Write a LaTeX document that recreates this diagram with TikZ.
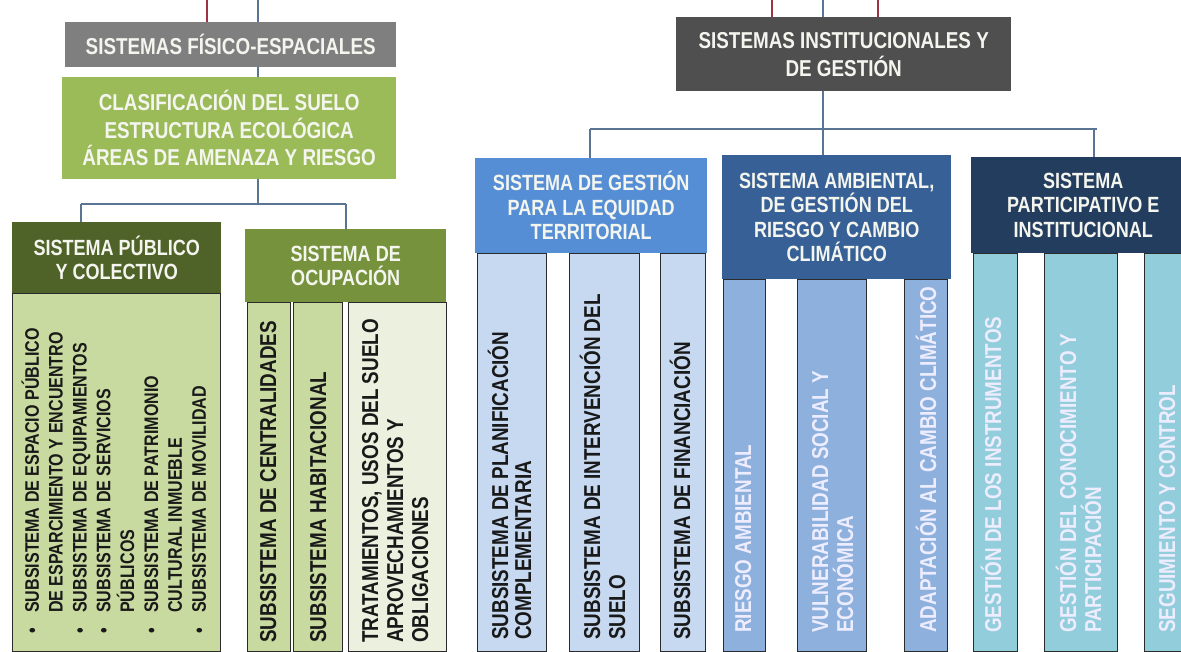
\documentclass[tikz,border=0pt]{standalone}
\usepackage{fontspec}
\setmainfont{Liberation Sans}[FakeStretch=0.82]
\definecolor{fisgray}{HTML}{7F7F7F}
\definecolor{instgray}{HTML}{4F4F4F}
\definecolor{greenA}{HTML}{9BBB59}
\definecolor{pubdark}{HTML}{4F6228}
\definecolor{ocugreen}{HTML}{76923C}
\definecolor{panelc}{HTML}{C8DA9F}
\definecolor{palec}{HTML}{EBF1DE}
\definecolor{gesthdr}{HTML}{558ED5}
\definecolor{gestcol}{HTML}{C6D9F1}
\definecolor{ambhdr}{HTML}{376196}
\definecolor{ambcol}{HTML}{8EB0DC}
\definecolor{parthdr}{HTML}{233D5E}
\definecolor{partcol}{HTML}{92CDDC}
\definecolor{connc}{HTML}{5A7594}
\definecolor{redc}{HTML}{9E3344}
\definecolor{colline}{HTML}{2B2B2B}
\definecolor{lighttext}{HTML}{F4F5EE}
\begin{document}
\begin{tikzpicture}[x=1pt,y=-1pt,
  hdr/.style={inner sep=0pt, align=center, text=lighttext, anchor=north west,
    font=\bfseries\fontsize{22}{24.5}\selectfont},
  colbox/.style={draw=colline, line width=0.9pt},
  vt/.style={rotate=90, anchor=base west, inner sep=0pt, text=black!90,
    font=\bfseries\fontsize{23}{25}\selectfont},
  vtw/.style={vt, text=white!93!blue},
  vtp/.style={vt, font=\bfseries\fontsize{19.6}{22}\selectfont},
  conn/.style={draw=connc, line width=1.2pt},
  redl/.style={draw=redc, line width=1.2pt}]
\useasboundingbox (0,0) rectangle (1181,652);
\fill[white] (0,0) rectangle (1181,652);

% ---------- left tree ----------
\node[hdr, fill=fisgray, minimum width=331pt, minimum height=45pt,
  font=\bfseries\fontsize{23}{27}\selectfont] (fis) at (65,22) {SISTEMAS FÍSICO-ESPACIALES};
\node[hdr, fill=greenA, minimum width=334pt, minimum height=102pt,
  font=\bfseries\fontsize{23}{27.5}\selectfont] (clas) at (62,77)
  {CLASIFICACIÓN DEL SUELO\\ESTRUCTURA ECOLÓGICA\\ÁREAS DE AMENAZA Y RIESGO};
\node[hdr, fill=pubdark, minimum width=209pt, minimum height=71pt] (pub) at (12,222)
  {SISTEMA PÚBLICO\\Y COLECTIVO};
\node[hdr, fill=ocugreen, minimum width=201pt, minimum height=73pt] (ocu) at (245,229)
  {SISTEMA DE\\OCUPACIÓN};

\coordinate (tl1) at (207,0);
\coordinate (tl2) at (258,0);
\coordinate (lj) at (258,204);
\coordinate (lh1) at (81,204);
\coordinate (lh2) at (346,204);
\draw[redl] (tl1) -- (tl1 |- fis.north);
\draw[conn] (tl2) -- (tl2 |- fis.north);
\draw[conn] (tl2 |- fis.south) -- (tl2 |- clas.north);
\draw[conn] (lj |- clas.south) -- (lj);
\draw[conn] (lh1) -- (lh2);
\draw[conn] (lh1) -- (lh1 |- pub.north);
\draw[conn] (lh2) -- (lh2 |- ocu.north);

% panel
\draw[colbox, fill=panelc] (12,293) rectangle (220,651);
\node[vtp] (p1) at (38.8,634) {\makebox[21pt][l]{•}SUBSISTEMA DE ESPACIO PÚBLICO};
\node[vtp] (p2) at (62.7,634) {\hspace*{21pt}DE ESPARCIMIENTO Y ENCUENTRO};
\node[vtp] (p3) at (86.5,634) {\makebox[21pt][l]{•}SUBSISTEMA DE EQUIPAMIENTOS};
\node[vtp] (p4) at (110.4,634) {\makebox[21pt][l]{•}SUBSISTEMA DE SERVICIOS};
\node[vtp] (p5) at (134.2,634) {\hspace*{21pt}PÚBLICOS};
\node[vtp] (p6) at (158.1,634) {\makebox[21pt][l]{•}SUBSISTEMA DE PATRIMONIO};
\node[vtp] (p7) at (181.9,634) {\hspace*{21pt}CULTURAL INMUEBLE};
\node[vtp] (p8) at (205.8,634) {\makebox[21pt][l]{•}SUBSISTEMA DE MOVILIDAD};

% ocupacion columns
\draw[colbox, fill=panelc] (247,302) rectangle (290,651);
\draw[colbox, fill=panelc] (293,302) rectangle (342,651);
\draw[colbox, fill=palec] (348,302) rectangle (446,651);
\node[vt] (o1) at (276,643) {SUBSISTEMA DE CENTRALIDADES};
\node[vt] (o2) at (326,643) {SUBSISTEMA HABITACIONAL};
\node[vt] (o3a) at (378,643) {TRATAMIENTOS, USOS DEL SUELO};
\node[vt] (o3b) at (403,643) {APROVECHAMIENTOS Y};
\node[vt] (o3c) at (428,643) {OBLIGACIONES};

% ---------- right tree ----------
\node[hdr, fill=instgray, minimum width=335pt, minimum height=74pt,
  font=\bfseries\fontsize{23}{28}\selectfont] (inst) at (676,17)
  {SISTEMAS INSTITUCIONALES Y\\DE GESTIÓN};
\node[hdr, fill=gesthdr, minimum width=232pt, minimum height=95pt] (gest) at (475,158)
  {SISTEMA DE GESTIÓN\\PARA LA EQUIDAD\\TERRITORIAL};
\node[hdr, fill=ambhdr, minimum width=229pt, minimum height=124pt] (amb) at (722,155)
  {SISTEMA AMBIENTAL,\\DE GESTIÓN DEL\\RIESGO Y CAMBIO\\CLIMÁTICO};
\node[hdr, fill=parthdr, minimum width=224pt, minimum height=96pt] (part) at (971,157)
  {SISTEMA\\PARTICIPATIVO E\\INSTITUCIONAL};

\coordinate (tr1) at (772,0);
\coordinate (tr2) at (823,0);
\coordinate (tr3) at (878,0);
\coordinate (rj) at (823,129);
\coordinate (rh1) at (590,129);
\coordinate (rh2) at (1097,129);
\coordinate (rh3) at (1094,129);
\draw[redl] (tr1) -- (tr1 |- inst.north);
\draw[conn] (tr2) -- (tr2 |- inst.north);
\draw[redl] (tr3) -- (tr3 |- inst.north);
\draw[conn] (rj |- inst.south) -- (rj |- amb.north);
\draw[conn] (rh1) -- (rh2);
\draw[conn] (rh1) -- (rh1 |- gest.north);
\draw[conn] (rh3) -- (rh3 |- part.north);

% gestion columns
\draw[colbox, fill=gestcol] (477,253) rectangle (546,651);
\draw[colbox, fill=gestcol] (569,253) rectangle (639,651);
\draw[colbox, fill=gestcol] (660,253) rectangle (705,651);
\node[vt] (g1a) at (508,640) {SUBSISTEMA DE PLANIFICACIÓN};
\node[vt] (g1b) at (531,640) {COMPLEMENTARIA};
\node[vt] (g2a) at (600,640) {SUBSISTEMA DE INTERVENCIÓN DEL};
\node[vt] (g2b) at (625,640) {SUELO};
\node[vt] (g3) at (690,640) {SUBSISTEMA DE FINANCIACIÓN};

% ambiental columns
\draw[colbox, fill=ambcol] (723,279) rectangle (765,651);
\draw[colbox, fill=ambcol] (797,279) rectangle (866,651);
\draw[colbox, fill=ambcol] (904,279) rectangle (947,651);
\node[vtw] (a1) at (751,633) {RIESGO AMBIENTAL};
\node[vtw] (a2a) at (828,633) {VULNERABILIDAD SOCIAL Y};
\node[vtw] (a2b) at (853,633) {ECONÓMICA};
\node[vtw] (a3) at (936,633) {ADAPTACIÓN AL CAMBIO CLIMÁTICO};

% participativo columns
\draw[colbox, fill=partcol] (973,253) rectangle (1017,651);
\draw[colbox, fill=partcol] (1044,253) rectangle (1117,651);
\draw[colbox, fill=partcol] (1144,253) rectangle (1195,651);
\node[vtw] (q1) at (1001,633) {GESTIÓN DE LOS INSTRUMENTOS};
\node[vtw] (q2a) at (1076,633) {GESTIÓN DEL CONOCIMIENTO Y};
\node[vtw] (q2b) at (1101,633) {PARTICIPACIÓN};
\node[vtw] (q3) at (1175,633) {SEGUIMIENTO Y CONTROL};
\end{tikzpicture}
\end{document}
